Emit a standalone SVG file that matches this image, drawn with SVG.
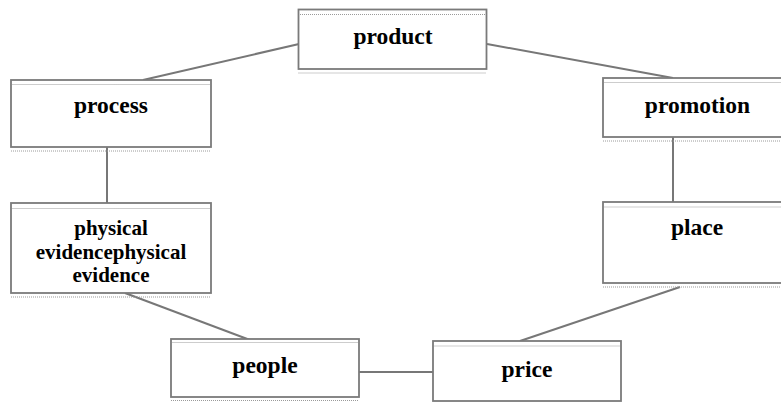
<svg xmlns="http://www.w3.org/2000/svg" width="781" height="403" viewBox="0 0 781 403">
<style>
.box{fill:#fff;stroke:#7a7a7a;stroke-width:1.8}
.dot{stroke:#9a9a9a;stroke-width:1;stroke-dasharray:1 1;fill:none}
.lbl{font-family:"Liberation Serif","Times New Roman",serif;font-weight:bold;font-size:23.5px;fill:#000;text-anchor:middle}
.sm{font-size:21px}
.conn line{stroke:#777;stroke-width:2}
</style>
<rect width="781" height="403" fill="#fff"/>
<g class="conn" id="connectors">
<line x1="143" y1="80" x2="299" y2="44"/>
<line x1="487" y1="44" x2="673" y2="78"/>
<line x1="107" y1="147" x2="107" y2="203"/>
<line x1="673" y1="137" x2="673" y2="207"/>
<line x1="125" y1="293" x2="250" y2="340"/>
<line x1="359" y1="372" x2="433" y2="372"/>
<line x1="680" y1="287" x2="520" y2="341"/>
</g>
<g id="product">
<rect class="box" x="298.5" y="9.5" width="188" height="59.5"/>
<line class="dot" x1="300" y1="14.5" x2="485" y2="14.5"/>
<line class="dot" x1="298.5" y1="73" x2="486.5" y2="73"/>
<text class="lbl" x="393" y="44">product</text>
</g>
<g id="process">
<rect class="box" x="11" y="80" width="200" height="67"/>
<line class="dot" x1="12.5" y1="84.5" x2="209.5" y2="84.5"/>
<line class="dot" x1="11" y1="151" x2="211" y2="151"/>
<text class="lbl" x="111" y="113">process</text>
</g>
<g id="promotion">
<rect class="box" x="603" y="78" width="190" height="59"/>
<line class="dot" x1="604.5" y1="82.5" x2="781" y2="82.5"/>
<line class="dot" x1="603" y1="141" x2="781" y2="141"/>
<text class="lbl" x="697.5" y="113">promotion</text>
</g>
<g id="physical-evidence">
<rect class="box" x="11" y="203" width="200" height="90"/>
<line class="dot" x1="12.5" y1="208.5" x2="209.5" y2="208.5"/>
<line class="dot" x1="11" y1="297" x2="211" y2="297"/>
<text class="lbl sm" x="111" y="235">physical</text>
<text class="lbl sm" x="111" y="259">evidencephysical</text>
<text class="lbl sm" x="111" y="282">evidence</text>
</g>
<g id="place">
<rect class="box" x="603" y="202" width="190" height="81"/>
<line class="dot" x1="604.5" y1="207" x2="781" y2="207"/>
<line class="dot" x1="603" y1="287" x2="781" y2="287"/>
<text class="lbl" x="697" y="235">place</text>
</g>
<g id="people">
<rect class="box" x="171" y="339" width="188" height="58"/>
<line class="dot" x1="172.5" y1="342.5" x2="357.5" y2="342.5"/>
<line class="dot" x1="171" y1="400.5" x2="359" y2="400.5"/>
<text class="lbl" x="265" y="372.5">people</text>
</g>
<g id="price">
<rect class="box" x="433" y="341" width="188" height="60"/>
<line class="dot" x1="434.5" y1="346" x2="619.5" y2="346"/>
<text class="lbl" x="527" y="376.5">price</text>
</g>
</svg>
